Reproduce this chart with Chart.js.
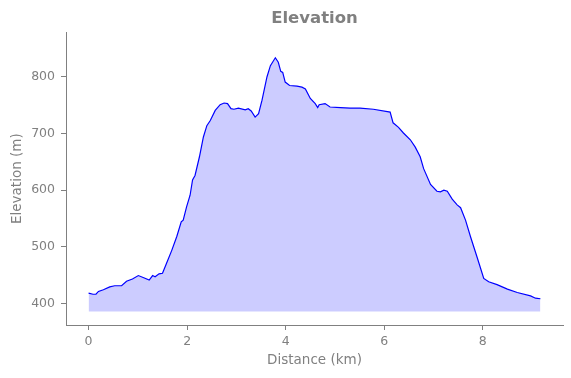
<!DOCTYPE html>
<html>
<head>
<meta charset="utf-8">
<script src="https://cdn.jsdelivr.net/npm/chart.js@4/dist/chart.umd.min.js"></script>
<style>
html,body{margin:0;padding:0;background:#fff;}
#wrap{width:571px;height:378px;position:relative;}
</style>
</head>
<body>
<div id="wrap"><canvas id="c" width="571" height="378"></canvas></div>
<script>
const distanceKm = [0.00,0.09,0.15,0.20,0.30,0.43,0.53,0.67,0.77,0.89,1.01,1.12,1.23,1.30,1.35,1.43,1.50,1.57,1.69,1.79,1.88,1.92,1.99,2.06,2.11,2.16,2.25,2.33,2.40,2.47,2.57,2.67,2.75,2.82,2.89,2.95,3.04,3.18,3.24,3.30,3.38,3.45,3.52,3.62,3.69,3.79,3.85,3.90,3.94,3.99,4.08,4.23,4.33,4.40,4.50,4.60,4.65,4.68,4.80,4.90,5.11,5.31,5.51,5.78,6.12,6.18,6.29,6.39,6.53,6.63,6.73,6.80,6.94,7.07,7.14,7.21,7.28,7.38,7.48,7.55,7.65,7.75,7.89,8.02,8.12,8.29,8.50,8.70,8.97,9.07,9.17];
const elevationM = [418,416,416,421,424,429,431,431,439,443,449,445,441,449,447,452,453,468,494,518,544,547,571,591,618,626,659,694,714,723,741,751,754,753,744,743,745,742,744,740,729,735,759,800,820,834,826,810,808,791,785,784,782,779,762,753,746,751,753,747,746,745,745,743,738,719,711,701,689,676,659,638,610,598,597,600,598,584,574,569,547,518,480,444,438,433,425,419,413,409,408];
const xTicks = [0,2,4,6,8];
const yTicks = [400,500,600,700,800];
const fillBase = 385.5;

const gray = '#808080';
const points = distanceKm.map((d,i)=>({x:d,y:elevationM[i]}));

new Chart(document.getElementById('c'), {
  type: 'line',
  data: {
    datasets: [{
      data: points,
      borderColor: '#0000ff',
      borderWidth: 1.2,
      pointRadius: 0,
      tension: 0,
      fill: {value: fillBase},
      backgroundColor: 'rgba(0,0,255,0.2)'
    }]
  },
  options: {
    responsive: false,
    animation: false,
    layout: {padding: {left: 0, right: 8, top: 0, bottom: 0}},
    plugins: {
      legend: {display: false},
      tooltip: {enabled: false},
      title: {
        display: true,
        fullSize: false,
        text: 'Elevation',
        color: gray,
        font: {family: 'DejaVu Sans', size: 16.5, weight: 'bold', lineHeight: 1.2},
        padding: {top: 9, bottom: 3.5}
      }
    },
    scales: {
      x: {
        type: 'linear',
        min: -0.4585,
        max: 9.6285,
        afterBuildTicks: s => { s.ticks = xTicks.map(v=>({value:v})); },
        afterFit: s => { s.height = 53; },
        grid: {display: true, drawOnChartArea: false, drawTicks: true, tickLength: 5, color: gray},
        border: {display: true, color: gray, width: 1},
        ticks: {color: gray, padding: 4, font: {family: 'DejaVu Sans', size: 12.5}, maxRotation: 0},
        title: {display: true, text: 'Distance (km)', color: gray, font: {family: 'DejaVu Sans', size: 13.5, lineHeight: 1.2}, padding: {top: 0, bottom: 9}}
      },
      y: {
        type: 'linear',
        min: 361.6,
        max: 879,
        afterBuildTicks: s => { s.ticks = yTicks.map(v=>({value:v})); },
        afterFit: s => { s.width = 66; },
        grid: {display: true, drawOnChartArea: false, drawTicks: true, tickLength: 5, color: gray},
        border: {display: true, color: gray, width: 1},
        ticks: {color: gray, padding: 6, font: {family: 'DejaVu Sans', size: 12.5}},
        title: {display: true, text: 'Elevation (m)', color: gray, font: {family: 'DejaVu Sans', size: 13.5, lineHeight: 1.2}, padding: {top: 9, bottom: 0}}
      }
    }
  }
});
</script>
</body>
</html>
